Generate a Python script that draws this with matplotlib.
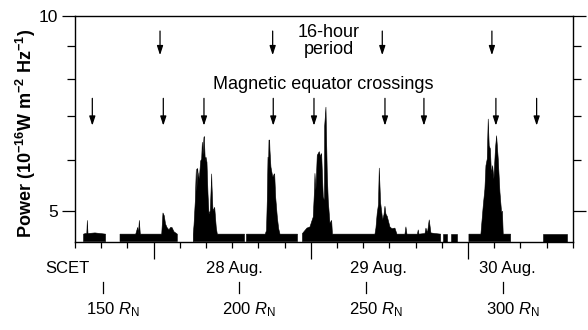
import numpy as np
import matplotlib
matplotlib.use("Agg")
import matplotlib.pyplot as plt
from matplotlib.ticker import FixedLocator, FixedFormatter, NullFormatter

plt.rcParams['font.family'] = ['Liberation Sans', 'DejaVu Sans']
plt.rcParams['mathtext.fontset'] = 'custom'
plt.rcParams['mathtext.rm'] = 'Liberation Sans'
plt.rcParams['mathtext.it'] = 'Liberation Sans:italic'
plt.rcParams['mathtext.bf'] = 'Liberation Sans:bold'

nan = np.nan

# time since start of plot (hours) and received power (1e-16 W m^-2 Hz^-1)
# nan = no data
hours = [1.30, 1.60, 1.80, 1.88, 1.98, 3.05, 4.66, 4.67,
         6.87, 9.27, 9.57, 9.69, 9.82, 9.97, 13.24, 13.43, 13.63, 13.82, 14.05, 14.35,
         14.58, 14.81, 15.11, 15.62, 15.63,
         18.06, 18.17, 18.37, 18.52, 18.60, 18.73, 18.78, 18.98, 19.19, 19.34, 19.44,
         19.55, 19.69, 19.74, 19.89, 20.00, 20.15, 20.31, 20.46, 20.66, 20.87, 20.92,
         21.07, 21.33, 21.57, 21.73, 25.88, 25.89,
         26.18, 29.05, 29.24, 29.36, 29.47, 29.55, 29.62, 29.72, 29.77, 29.92, 30.15,
         30.23, 30.43, 30.49, 30.64, 30.89, 30.95, 31.10, 31.30, 33.97, 33.98,
         34.73, 35.11, 35.42, 35.88, 36.11, 36.38, 36.59, 36.64, 36.79, 36.99, 37.30,
         37.51, 37.66, 37.91, 38.09, 38.12, 38.32, 38.52, 38.67, 38.93, 39.19, 39.31,
         45.80, 45.95, 46.15, 46.34, 46.46, 46.67, 46.98, 47.18, 47.33, 47.48, 47.68,
         48.09, 48.40, 48.85, 49.16, 50.38, 50.53, 50.69, 52.29, 52.41, 52.52, 53.44,
         53.59, 53.82, 54.09, 54.35, 54.96, 55.83, 55.84,
         56.14, 56.84, 56.85,
         57.48, 58.28, 58.29,
         60.15, 61.98, 62.34, 62.59, 62.75, 62.95, 63.10, 63.25, 63.43, 63.59, 63.77,
         63.97, 64.20, 64.38, 64.63, 64.89, 65.14, 65.27, 65.39, 66.52, 66.53,
         71.50, 75.07]
power = [4.60, 4.61, 4.61, 4.83, 4.61, 4.62, 4.60, nan,
         4.60, 4.60, 4.71, 4.60, 4.83, 4.60, 4.60, 4.96, 4.91, 4.77, 4.71, 4.67,
         4.71, 4.71, 4.64, 4.60, nan,
         4.60, 4.75, 5.18, 5.80, 5.35, 5.81, 5.73, 5.60, 5.97, 6.01, 6.38,
         6.10, 6.49, 6.51, 5.97, 6.05, 5.94, 5.30, 4.94, 5.00, 5.70, 5.45,
         5.00, 5.06, 4.71, 4.60, 4.60, nan,
         4.60, 4.60, 4.66, 5.19, 6.05, 5.80, 6.43, 6.43, 6.20, 5.84, 5.67,
         5.64, 5.70, 5.70, 5.25, 4.89, 4.83, 4.69, 4.60, 4.60, nan,
         4.61, 4.66, 4.70, 4.72, 4.80, 4.89, 5.44, 5.71, 5.38, 6.09, 6.17,
         6.06, 6.13, 5.25, 5.19, 6.75, 7.23, 5.71, 5.19, 4.78, 4.83, 4.60,
         4.60, 4.70, 4.96, 5.11, 5.82, 5.14, 4.84, 4.93, 5.08, 4.94, 4.90,
         4.72, 4.69, 4.70, 4.60, 4.60, 4.72, 4.60, 4.60, 4.67, 4.60, 4.61,
         4.70, 4.62, 4.84, 4.62, 4.61, 4.60, nan,
         4.60, 4.60, nan,
         4.60, 4.60, nan,
         4.60, 4.60, 5.09, 5.40, 5.87, 6.01, 6.93, 6.30, 6.23, 5.70, 5.87,
         5.60, 6.23, 6.53, 6.01, 5.34, 4.97, 4.99, 4.60, 4.60, nan,
         4.60, 4.60]

period_arrows = [12.98, 30.18, 46.92, 63.66]
equator_arrows = [2.64, 13.48, 19.69, 30.27, 36.49, 47.33, 53.28, 64.27, 70.49]

day_labels = ['28 Aug.', '29 Aug.', '30 Aug.']
day_label_pos = [24.38, 46.26, 65.95]
day_ticks = [12, 36, 60]
hour_ticks = [h for h in range(0, 77, 4) if h not in day_ticks]

rn_values = [150, 200, 250, 300]
rn_pos = [4.32, 25.04, 44.43, 65.39]

ymin, ymax = 4.48, 10.0

fig = plt.figure(figsize=(5.88, 3.30), dpi=100)
ax = fig.add_axes([0.1276, 0.268, 0.8464, 0.6833])

t = np.array(hours)
p = np.array(power)
ax.fill_between(t, ymin, p, color='black', lw=0.4, edgecolor='black')

ax.set_yscale('log')
ax.set_ylim(ymin, ymax)
ax.set_xlim(0, 76)
ax.yaxis.set_major_locator(FixedLocator([5, 10]))
ax.yaxis.set_major_formatter(FixedFormatter(['5', '10']))
ax.yaxis.set_minor_locator(FixedLocator([6, 7, 8, 9]))
ax.yaxis.set_minor_formatter(NullFormatter())
ax.set_xticks(day_ticks)
ax.set_xticks(hour_ticks, minor=True)
ax.set_xticklabels([])
ax.tick_params(axis='y', which='major', direction='out', length=9.5, width=0.9,
               right=True, labelsize=12.5, pad=3)
ax.tick_params(axis='y', which='minor', direction='out', length=5.5, width=0.9,
               right=True)
ax.tick_params(axis='x', which='major', direction='out', length=12, width=0.9)
ax.tick_params(axis='x', which='minor', direction='out', length=4.5, width=0.9)
for s in ax.spines.values():
    s.set_linewidth(1.0)

arrow_style = dict(arrowstyle='-|>,head_width=0.18,head_length=0.55', color='black',
                   lw=0.9, mutation_scale=10, shrinkA=0, shrinkB=0)
for x in period_arrows:
    ax.annotate('', xy=(x, 8.70), xytext=(x, 9.48), arrowprops=arrow_style)
for x in equator_arrows:
    ax.annotate('', xy=(x, 6.77), xytext=(x, 7.46), arrowprops=arrow_style)

ax.text(38.78, 9.15, '16-hour\nperiod', ha='center', va='center', fontsize=13,
        linespacing=0.95)
ax.text(37.92, 7.70, 'Magnetic equator crossings', ha='center', va='baseline', fontsize=13)

trans = ax.get_xaxis_transform()
ax.text(-4.6, -0.14, 'SCET', ha='left', va='baseline', fontsize=12, transform=trans,
        clip_on=False)
for lab, x in zip(day_labels, day_label_pos):
    ax.text(x, -0.14, lab, ha='center', va='baseline', fontsize=12, transform=trans)
for v, x in zip(rn_values, rn_pos):
    ax.plot([x, x], [-0.178, -0.230], color='black', lw=0.9, transform=trans,
            clip_on=False)
    ax.annotate('%d $R_\\mathrm{N}$' % v, xy=(x, -0.322), xycoords=trans,
                xytext=(-17, 0), textcoords='offset pixels', ha='left', va='baseline',
                fontsize=12)

fig.text(26 / 588, 1 - 133 / 330,
         'Power (10$^{\\mathbf{-16}}$W m$^{\\mathbf{-2}}$ Hz$^{\\mathbf{-1}}$)',
         rotation=90, ha='center', va='center', fontsize=13, fontweight='bold')

fig.savefig('out.png', dpi=100)
